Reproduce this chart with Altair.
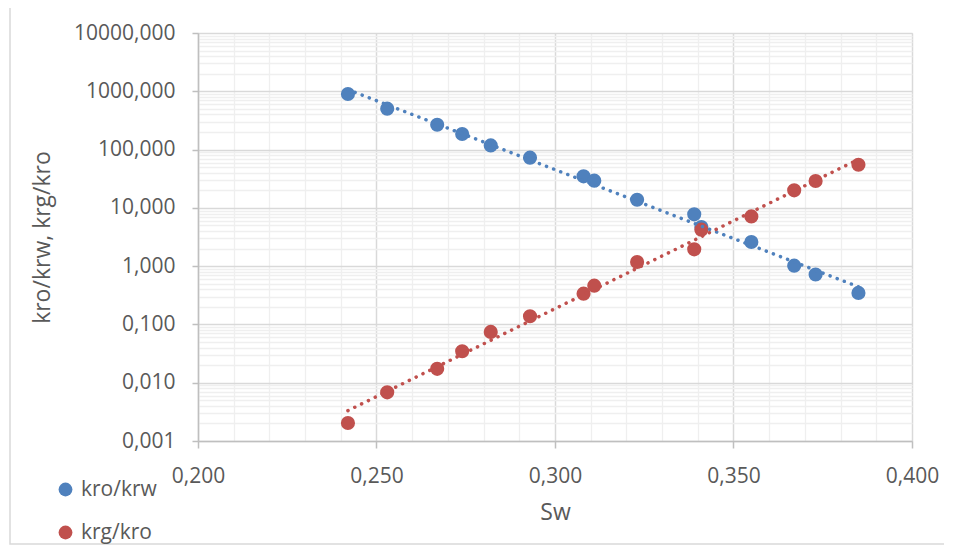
import altair as alt
import pandas as pd

# ---- data ----
sw = [0.242, 0.253, 0.267, 0.274, 0.282, 0.293, 0.308, 0.311,
      0.323, 0.339, 0.341, 0.355, 0.367, 0.373, 0.385]
kro_krw = [899, 503, 267, 185, 118, 72.6, 34.7, 29.3,
           13.8, 7.74, 4.7, 2.6, 1.02, 0.72, 0.347]
krg_kro = [0.00204, 0.00684, 0.0173, 0.0346, 0.0743, 0.138, 0.337, 0.463,
           1.18, 1.94, 4.23, 7.14, 20.0, 28.9, 55.0]
series_names = ["kro/krw", "krg/kro"]
series_colors = ["#4F81BD", "#C0504D"]

x_major = [0.2, 0.25, 0.3, 0.35, 0.4]
x_minor = [0.21, 0.22, 0.23, 0.24, 0.26, 0.27, 0.28, 0.29,
           0.31, 0.32, 0.33, 0.34, 0.36, 0.37, 0.38, 0.39]
y_major = [0.001, 0.01, 0.1, 1, 10, 100, 1000, 10000]
y_minor = [k * 10.0 ** d for d in range(-3, 4) for k in range(2, 10)]

rows = []
for name, vals in zip(series_names, [kro_krw, krg_kro]):
    for x, v in zip(sw, vals):
        rows.append({"series": name, "Sw": x, "value": v})
df = pd.DataFrame(rows)

FONT = "Open Sans"
TXT = "#595959"
comma = "replace(datum.label, '.', ',')"

xs = alt.Scale(domain=[0.2, 0.4], nice=False, zero=False)
ys = alt.Scale(type="log", domain=[0.001, 10000], nice=False)

base = alt.Chart(df)

minor_grid = base.mark_point(opacity=0).encode(
    x=alt.X("Sw:Q", scale=xs, axis=alt.Axis(
        orient="top", values=x_minor, grid=True, gridColor="#EFEFEF",
        gridWidth=1.3, labels=False, ticks=False, domain=False, title=None)),
    y=alt.Y("value:Q", scale=ys, axis=alt.Axis(
        orient="right", values=y_minor, grid=True, gridColor="#EFEFEF",
        gridWidth=1.3, labels=False, ticks=False, domain=False, title=None)),
)

points = base.mark_circle(size=200, opacity=1).encode(
    x=alt.X("Sw:Q", scale=xs, axis=alt.Axis(
        orient="bottom", values=x_major, format=".3f", labelExpr=comma,
        labelFlush=False, labelOverlap=False,
        grid=True, gridColor="#D9D9D9", gridWidth=1.5,
        domainColor="#BFBFBF", domainWidth=1.5,
        tickColor="#BFBFBF", tickSize=7, tickWidth=1.5,
        labelFont=FONT, labelFontSize=21, labelColor=TXT, labelPadding=17,
        title="Sw", titleFont=FONT, titleFontSize=23, titleColor=TXT,
        titleFontWeight="normal", titlePadding=15)),
    y=alt.Y("value:Q", scale=ys, axis=alt.Axis(
        orient="left", values=y_major, format=".3f", labelExpr=comma,
        labelFlush=False, labelOverlap=False,
        grid=True, gridColor="#D9D9D9", gridWidth=1.5,
        domainColor="#BFBFBF", domainWidth=1.5,
        tickColor="#BFBFBF", tickSize=6, tickWidth=1.5,
        labelFont=FONT, labelFontSize=21, labelColor=TXT, labelPadding=17,
        title="kro/krw, krg/kro", titleFont=FONT, titleFontSize=23,
        titleColor=TXT, titleFontWeight="normal",
        titleX=-156, titleY=204, titleAlign="center", titleBaseline="middle",
        titleAngle=270)),
    color=alt.Color("series:N",
                    scale=alt.Scale(domain=series_names, range=series_colors),
                    sort=series_names,
                    legend=alt.Legend(
                        orient="none", legendX=-143, legendY=446,
                        direction="vertical", title=None,
                        symbolType="circle", symbolSize=190,
                        symbolStrokeWidth=0, symbolOpacity=1,
                        labelFont=FONT, labelFontSize=21, labelColor=TXT,
                        labelOffset=5, rowPadding=21, padding=0)),
    order=alt.Order("idx:Q"),
).transform_window(idx="row_number()")

trend = base.transform_calculate(
    logv="log(datum.value) / LN10"
).transform_regression(
    "Sw", "logv", groupby=["series"], method="linear"
).transform_calculate(
    value="pow(10, datum.logv)"
).mark_line(strokeDash=[0.1, 7.5], strokeCap="round", strokeWidth=3.5).encode(
    x=alt.X("Sw:Q", scale=xs, axis=None),
    y=alt.Y("value:Q", scale=ys, axis=None),
    stroke=alt.Stroke("series:N",
                      scale=alt.Scale(domain=series_names, range=series_colors),
                      legend=None),
)

frame = alt.Chart(alt.Data(values=[{"k": 1}])).mark_rect(
    fillOpacity=0, stroke="#D9D9D9", strokeWidth=1.5
).encode(
    x=alt.value(-188), x2=alt.value(770), y=alt.value(-27), y2=alt.value(511)
)

chart = alt.layer(frame, minor_grid, points, trend).resolve_axis(
    x="independent", y="independent"
).resolve_scale(
    color="independent", stroke="independent"
).properties(
    width=714, height=408,
    padding={"left": 190, "top": 25, "right": 32, "bottom": 104},
    autosize=alt.AutoSizeParams(type="none"),
).configure_view(stroke="transparent").configure(background="white")

chart.save("out.html", embed_options={"renderer": "svg", "actions": False})
